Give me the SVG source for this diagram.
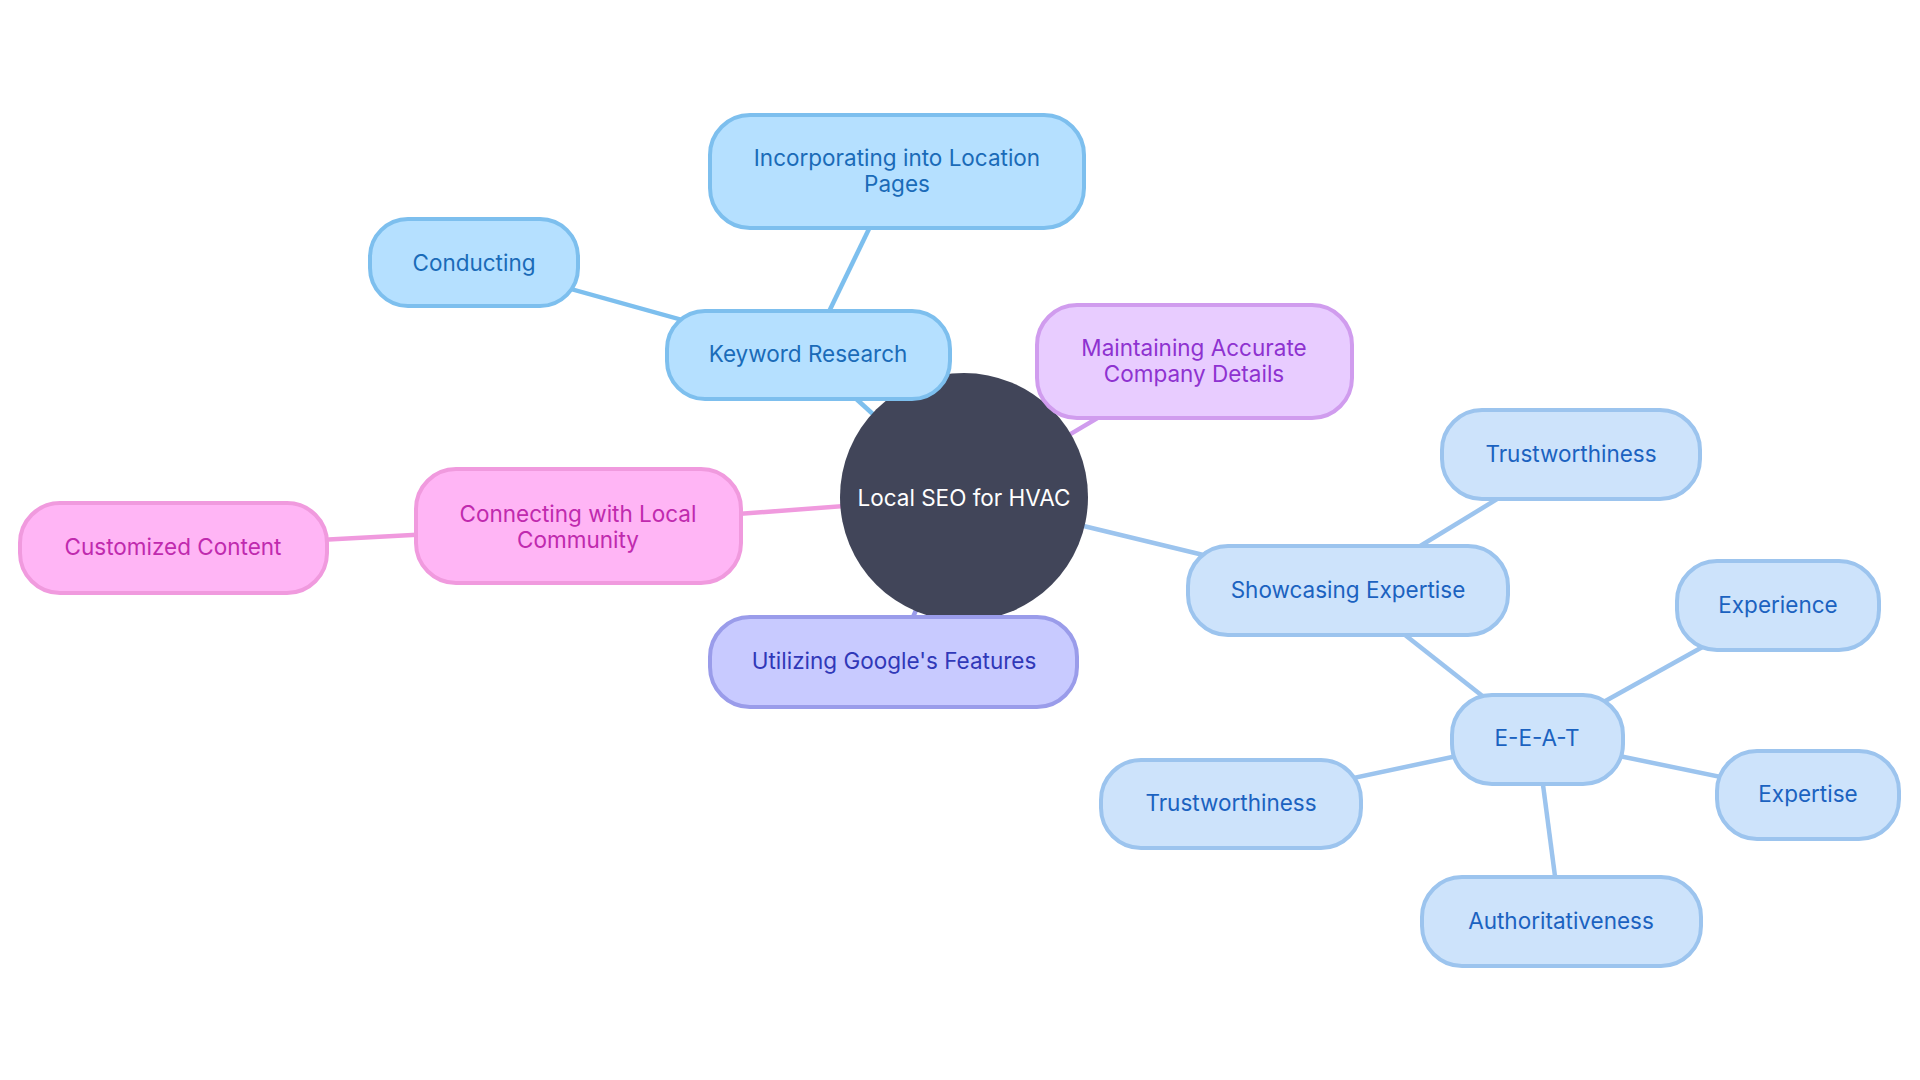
<svg xmlns="http://www.w3.org/2000/svg" width="1920" height="1080" viewBox="0 0 1920 1080">
<style>
text{font-family:Inter,"Noto Sans",sans-serif;font-size:22.5px;text-anchor:middle;dominant-baseline:central}
.box{stroke-width:4}
.edge{fill:none;stroke-width:4.5}
.b1{fill:#B5E0FF;stroke:#7DBFEE}.t1{fill:#1A6BB8}
.b2{fill:#E8CCFF;stroke:#D09CEE}.t2{fill:#8E32D0}
.b3{fill:#FFB5F5;stroke:#F09ADE}.t3{fill:#C02AAE}
.b4{fill:#C8CAFF;stroke:#9A9CEA}.t4{fill:#3038B8}
.b5{fill:#CDE3FB;stroke:#9CC4EE}.t5{fill:#1B62C0}
.e1{stroke:#7DBFEE}.e2{stroke:#D09CEE}.e3{stroke:#F09ADE}.e4{stroke:#9A9CEA}.e5{stroke:#9CC4EE}
</style>
<rect width="1920" height="1080" fill="#ffffff"/>
<g id="connectors">
<line class="edge e1" x1="964" y1="497" x2="808" y2="355"/>
<line class="edge e1" x1="808" y1="355" x2="474" y2="262"/>
<line class="edge e1" x1="808" y1="355" x2="897" y2="171"/>
<line class="edge e2" x1="964" y1="497" x2="1194" y2="361"/>
<line class="edge e3" x1="964" y1="497" x2="578" y2="526"/>
<line class="edge e3" x1="578" y1="526" x2="173" y2="548"/>
<line class="edge e4" x1="964" y1="497" x2="894" y2="662"/>
<line class="edge e5" x1="964" y1="497" x2="1348" y2="590"/>
<line class="edge e5" x1="1348" y1="590" x2="1571" y2="454"/>
<line class="edge e5" x1="1348" y1="590" x2="1537" y2="739"/>
<line class="edge e5" x1="1537" y1="739" x2="1778" y2="605"/>
<line class="edge e5" x1="1537" y1="739" x2="1808" y2="795"/>
<line class="edge e5" x1="1537" y1="739" x2="1561" y2="922"/>
<line class="edge e5" x1="1537" y1="739" x2="1231" y2="804"/>
</g>
<g id="root">
<circle cx="964" cy="497" r="124" fill="#414559"/>
<text x="964" y="497" fill="#ffffff">Local SEO for HVAC</text>
</g>
<g id="keyword-research">
<rect class="box b1" x="667" y="311" width="283" height="88" rx="38"/>
<text class="t1" x="808" y="353">Keyword Research</text>
</g>
<g id="conducting">
<rect class="box b1" x="370" y="219" width="208" height="87" rx="38"/>
<text class="t1" x="474" y="262">Conducting</text>
</g>
<g id="incorporating">
<rect class="box b1" x="710" y="115" width="374" height="113" rx="40"/>
<text class="t1" x="897" y="157">Incorporating into Location</text>
<text class="t1" x="897" y="183">Pages</text>
</g>
<g id="maintaining">
<rect class="box b2" x="1037" y="305" width="315" height="113" rx="40"/>
<text class="t2" x="1194" y="347">Maintaining Accurate</text>
<text class="t2" x="1194" y="373">Company Details</text>
</g>
<g id="connecting">
<rect class="box b3" x="416" y="469" width="325" height="114" rx="40"/>
<text class="t3" x="578" y="513">Connecting with Local</text>
<text class="t3" x="578" y="539">Community</text>
</g>
<g id="customized">
<rect class="box b3" x="20" y="503" width="307" height="90" rx="40"/>
<text class="t3" x="173" y="546">Customized Content</text>
</g>
<g id="google">
<rect class="box b4" x="710" y="617" width="367" height="90" rx="40"/>
<text class="t4" x="894" y="660">Utilizing Google's Features</text>
</g>
<g id="showcasing">
<rect class="box b5" x="1188" y="546" width="320" height="89" rx="40"/>
<text class="t5" x="1348" y="589">Showcasing Expertise</text>
</g>
<g id="trust-top">
<rect class="box b5" x="1442" y="410" width="258" height="89" rx="40"/>
<text class="t5" x="1571" y="453">Trustworthiness</text>
</g>
<g id="experience">
<rect class="box b5" x="1677" y="561" width="202" height="89" rx="40"/>
<text class="t5" x="1778" y="604">Experience</text>
</g>
<g id="eeat">
<rect class="box b5" x="1452" y="695" width="171" height="89" rx="40"/>
<text class="t5" x="1537" y="737">E-E-A-T</text>
</g>
<g id="trust-bottom">
<rect class="box b5" x="1101" y="760" width="260" height="88" rx="40"/>
<text class="t5" x="1231" y="802">Trustworthiness</text>
</g>
<g id="authoritativeness">
<rect class="box b5" x="1422" y="877" width="279" height="89" rx="40"/>
<text class="t5" x="1561" y="920">Authoritativeness</text>
</g>
<g id="expertise">
<rect class="box b5" x="1717" y="751" width="182" height="88" rx="40"/>
<text class="t5" x="1808" y="793">Expertise</text>
</g>
</svg>
